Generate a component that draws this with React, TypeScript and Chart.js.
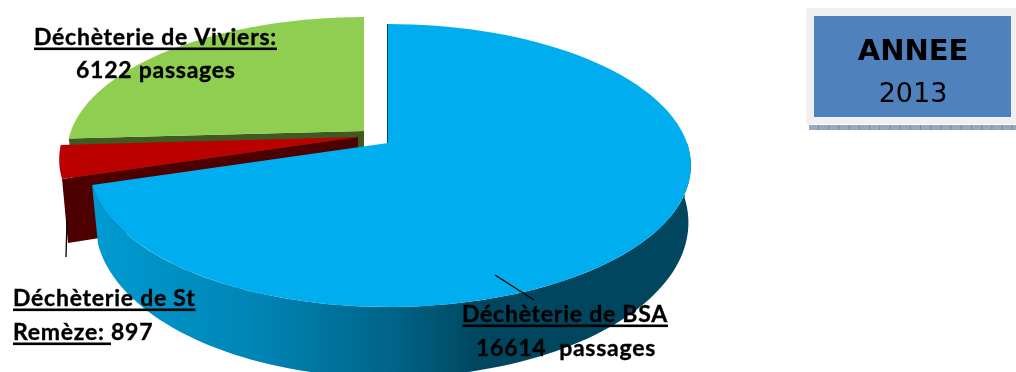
import React, { useEffect, useRef } from "react";
import { Chart, registerables } from "chart.js";

Chart.register(...registerables);

const categories = ["Déchèterie de BSA", "Déchèterie de St Remèze", "Déchèterie de Viviers"];
const passages = [16614, 897, 6122];
const year = "2013";
const boxTitle = "ANNEE";

const topColors = ["#00aeef", "#bb0000", "#8fce50"];
const faceColors = ["#00465f", "#4d0000", "#3f5a20"];

const PERSPECTIVE = 0.159;
const views = [
  { ax: 388, ay: 143, rx: 299, rxLeft: 295, ry: 137.9, drop: 55 },
  { ax: 358, ay: 137, rx: 295, rxLeft: 295, ry: 137.9, drop: 60 },
  { ax: 364, ay: 131, rx: 293, rxLeft: 293, ry: 132, drop: 55 },
];
const DEPTH = { sxLeft: 0.98, sxRight: 0.992, sy: 1.095 };

type V = { ax: number; ay: number; rx: number; rxLeft: number; ry: number; drop: number };
function pt(a: number, v: V, bottom: boolean): [number, number] {
  const u = Math.cos(a), w = Math.sin(a), d = 1 - PERSPECTIVE * w;
  const sx = bottom ? (u < 0 ? DEPTH.sxLeft : DEPTH.sxRight) : 1;
  const sy = bottom ? DEPTH.sy : 1, drop = bottom ? v.drop : 0;
  const rx = u < 0 ? v.rxLeft : v.rx;
  return [v.ax + (rx * sx * u) / d, v.ay + drop + (v.ry * sy * w) / d];
}
function rim(ctx: CanvasRenderingContext2D, a0: number, a1: number, v: V, bottom: boolean) {
  const steps = 96;
  for (let i = 0; i <= steps; i++) {
    const [x, y] = pt(a0 + ((a1 - a0) * i) / steps, v, bottom);
    ctx.lineTo(x, y);
  }
}
function label(ctx: CanvasRenderingContext2D, text: string, x: number, y: number, underlined: string | null) {
  ctx.fillStyle = "#000";
  ctx.strokeStyle = "#000";
  ctx.lineWidth = 0.35;
  ctx.fillText(text, x, y);
  ctx.strokeText(text, x, y);
  if (underlined) {
    ctx.fillRect(x, y + 2.5, ctx.measureText(underlined).width, 2.6);
  }
}

const pie3d = {
  id: "pie3d",
  beforeDatasetsDraw(chart: any) {
    const ctx: CanvasRenderingContext2D = chart.ctx;
    const arcs = chart.getDatasetMeta(0).data;
    ctx.save();
    // back to front: Viviers, St Remèze, BSA
    for (const i of [2, 1, 0]) {
      const { startAngle: s, endAngle: e } = arcs[i];
      const v = views[i];
      // cut face on the low side of the slice
      if (i !== 0) {
        ctx.beginPath();
        ctx.moveTo(v.ax, v.ay);
        ctx.lineTo(...pt(s, v, false));
        ctx.lineTo(...pt(s, v, true));
        ctx.lineTo(v.ax, v.ay + v.drop);
        ctx.closePath();
        ctx.fillStyle = faceColors[i];
        ctx.fill();
      } else {
        // outer wall
        const g = ctx.createLinearGradient(92, 0, 691, 0);
        g.addColorStop(0, "#009bd2");
        g.addColorStop(0.28, "#0084b4");
        g.addColorStop(0.5, "#006488");
        g.addColorStop(0.65, "#00465f");
        g.addColorStop(1, "#00465f");
        const a0 = 0, a1 = e;
        ctx.beginPath();
        rim(ctx, a0, a1, v, false);
        rim(ctx, a1, a0, v, true);
        ctx.closePath();
        ctx.fillStyle = g;
        ctx.fill();
        // thin dark cut edge at the start of the slice
        ctx.beginPath();
        ctx.moveTo(v.ax - 0.5, v.ay);
        ctx.lineTo(v.ax - 0.5, pt(s, v, false)[1]);
        ctx.strokeStyle = faceColors[0];
        ctx.lineWidth = 1;
        ctx.stroke();
      }
      ctx.beginPath();
      ctx.moveTo(v.ax, v.ay);
      rim(ctx, s, e, v, false);
      ctx.closePath();
      ctx.fillStyle = topColors[i];
      ctx.fill();
    }
    ctx.restore();
    return false;
  },
  afterDraw(chart: any) {
    const ctx: CanvasRenderingContext2D = chart.ctx;
    ctx.save();
    // leader lines
    ctx.strokeStyle = "#000";
    ctx.lineWidth = 1.3;
    ctx.beginPath();
    ctx.moveTo(67, 220);
    ctx.lineTo(66, 257);
    ctx.moveTo(495, 275);
    ctx.lineTo(534, 300);
    ctx.stroke();

    // labels
    ctx.textAlign = "left";
    ctx.textBaseline = "alphabetic";
    ctx.font = "bold 23px Lato";
    (ctx as any).letterSpacing = "0.75px";
    const first = categories[2] + ":";
    label(ctx, first, 34, 45, first);
    label(ctx, passages[2] + " passages", 76, 78, null);
    label(ctx, "Déchèterie de St", 13, 306, "Déchèterie de St");
    label(ctx, "Remèze: " + passages[1], 13, 340, "Remèze: ");
    label(ctx, categories[0], 462, 322, categories[0]);
    label(ctx, passages[0] + "  passages", 476, 356, null);
    (ctx as any).letterSpacing = "0px";

    // year box
    ctx.fillStyle = "#f0f0f0";
    ctx.fillRect(806, 8, 210, 116);
    ctx.fillStyle = "#4f81bd";
    ctx.fillRect(814, 16, 197, 101);
    ctx.fillStyle = "#9aa8bd";
    ctx.fillRect(809, 125, 207, 5);
    ctx.fillStyle = "#7c8ba3";
    for (let x = 818; x < 1016; x += 10.2) ctx.fillRect(x, 125, 1, 5);
    ctx.fillStyle = "#000";
    ctx.textAlign = "center";
    ctx.font = "bold 29px 'DejaVu Sans'";
    ctx.fillText(boxTitle, 913, 60);
    ctx.font = "27px 'DejaVu Sans'";
    ctx.fillText(year, 913, 102);
    ctx.restore();
  },
};

export default function App() {
  const ref = useRef<HTMLCanvasElement>(null);
  useEffect(() => {
    document.body.style.margin = "0";
    const chart = new Chart(ref.current!, {
      type: "pie",
      data: {
        labels: categories,
        datasets: [{ data: passages, backgroundColor: topColors, borderWidth: 0 }],
      },
      options: {
        responsive: false,
        animation: false,
        plugins: { legend: { display: false }, tooltip: { enabled: false } },
      },
      plugins: [pie3d],
    } as any);
    return () => chart.destroy();
  }, []);
  return (
    <div style={{ position: "absolute", left: 0, top: 0, width: 1016, height: 372, background: "#fff" }}>
      <canvas ref={ref} width={1016} height={372} style={{ display: "block" }} />
    </div>
  );
}
